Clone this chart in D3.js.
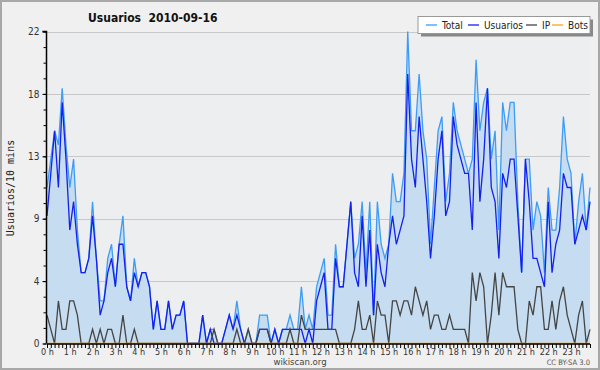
<!DOCTYPE html>
<html>
<head>
<meta charset="utf-8">
<style>
  body { margin: 0; background: #f0f0f0; }
  svg text { font-family: "DejaVu Sans Condensed", "DejaVu Sans", sans-serif; }
</style>
</head>
<body>
<svg id="chart" width="600" height="370"></svg>
<script src="https://d3js.org/d3.v7.min.js"></script>
<script>
// valores cada 10 minutos, 0h00 .. 23h50
var total = [11,13,15,14,18,14,11,13,8,5,5,6,10,6,3,3,6,7,4,7,9,4,3,6,4,5,5,4,1,3,1,1,3,1,2,2,3,0,0,0,
  0,2,0,1,1,0,0,1,2,1,3,1,0,1,0,0,2,2,2,0,1,0,1,1,2,1,1,4,1,2,1,4,5,6,2,2,7,4,4,7,
  10,6,7,10,5,10,2,10,7,6,7,12,10,10,12,22,15,15,19,15,13,7,11,15,16,10,12,17,15,14,13,12,13,20,15,17,18,13,15,8,
  17,15,17,17,10,5,13,13,8,10,9,5,11,8,8,11,16,13,12,7,10,12,8,11];
var usuarios = [9,12,15,11,17,13,8,10,7,5,5,6,9,6,2,3,5,6,4,7,7,4,3,5,4,5,5,4,1,3,1,1,3,1,2,2,3,0,0,0,
  0,2,0,1,0,0,0,1,2,1,2,1,0,0,0,0,1,1,1,0,1,0,1,1,1,1,1,1,0,1,0,3,4,5,1,1,6,4,4,7,
  10,5,4,9,4,8,2,7,5,4,7,9,7,8,9,19,13,11,16,13,10,6,9,13,15,9,10,16,14,13,12,12,8,17,10,13,18,11,10,6,
  12,11,13,13,9,5,13,10,6,6,5,4,10,5,7,8,12,11,11,7,8,9,8,10];
var ip = [2,1,0,3,1,1,3,3,2,0,0,0,1,0,1,0,1,1,0,0,2,0,0,1,0,0,0,0,0,0,0,0,0,0,0,0,0,0,0,0,
  0,0,0,0,1,0,0,0,0,0,1,0,0,1,0,0,1,1,1,0,0,0,0,0,1,0,0,2,1,1,1,1,1,1,1,1,1,0,0,0,
  0,1,3,1,1,2,0,3,2,2,0,3,3,2,3,3,2,4,3,2,3,1,2,2,1,1,2,1,1,1,1,0,5,3,5,4,0,2,5,2,
  5,4,4,4,1,0,0,3,2,4,4,1,1,3,1,3,4,2,1,0,2,3,0,1];
var bots = total.map(function() { return 0; });

var yTicks = [0, 4.4, 8.8, 13.2, 17.6, 22];
var hourLabels = d3.range(24).map(function(h) { return h + " h"; });

var series = [
  {name: "Total", values: total, color: "#3d9cf5"},
  {name: "Usuarios", values: usuarios, color: "#1420f0"},
  {name: "IP", values: ip, color: "#454545"},
  {name: "Bots", values: bots, color: "#ffa020"}
];

var svg = d3.select("#chart"),
    x0 = 47, x1 = 590, y0 = 343.5, y1 = 31.5;

var x = d3.scaleLinear().domain([0, total.length - 1]).range([x0, x1]);
var y = d3.scaleLinear().domain([0, 22]).range([y0, y1]);

// fondo y marco
svg.append("rect").attr("x", 1).attr("y", 1).attr("width", 598).attr("height", 368)
    .attr("fill", "#f0f0f0").attr("stroke", "#a8a8a8").attr("stroke-width", 2);
svg.append("rect").attr("x", x0).attr("y", y1).attr("width", x1 - x0).attr("height", y0 - y1)
    .attr("fill", "#edeef0");

// rejilla
svg.append("g").selectAll("line")
    .data(yTicks.slice(1))
  .enter().append("line")
    .attr("x1", x0).attr("x2", x1)
    .attr("y1", function(d) { return Math.round(y(d)) + 0.5; })
    .attr("y2", function(d) { return Math.round(y(d)) + 0.5; })
    .attr("stroke", "#c8c8c8");

var area = d3.area()
    .x(function(d, i) { return x(i); })
    .y0(y(0))
    .y1(function(d) { return y(d); });

svg.append("path")
    .datum(total)
    .attr("fill", "#c6dcf0")
    .attr("d", area);

var line = d3.line()
    .x(function(d, i) { return x(i); })
    .y(function(d) { return y(d); });

svg.selectAll(".serie")
    .data(series)
  .enter().append("path")
    .attr("class", "serie")
    .attr("fill", "none")
    .attr("stroke", function(d) { return d.color; })
    .attr("stroke-width", 1.3)
    .attr("d", function(d) { return line(d.values); });

// ejes
var yAxis = svg.append("g")
    .attr("transform", "translate(" + (x0 - 0.5) + ",0)")
    .call(d3.axisLeft(y).tickValues(yTicks).tickSize(4).tickFormat(d3.format(".0f")));
svg.append("g")
    .attr("transform", "translate(" + (x0 - 0.5) + ",0)")
    .call(d3.axisLeft(y).tickValues(d3.range(0, 22.01, 1.1)).tickSize(3).tickFormat(""))
    .select(".domain").remove();

var xAxis = svg.append("g")
    .attr("transform", "translate(0," + (y0 + 0.5) + ")")
    .call(d3.axisBottom(x).tickValues(d3.range(total.length)).tickSize(4)
        .tickFormat(function(d) { return d % 6 === 0 ? hourLabels[d / 6] : ""; }));

[yAxis, xAxis].forEach(function(a) {
  a.select(".domain").attr("stroke", "#000").attr("stroke-width", 1.5);
  a.selectAll(".tick line").attr("stroke", "#000");
  a.selectAll("text").attr("fill", "#333").style("font-size", "10px")
      .style("font-family", "DejaVu Sans Condensed");
});
xAxis.select(".domain").attr("d", "M" + x0 + ",0H" + x1);
yAxis.select(".domain").attr("d", "M0," + y0 + "V" + y1 + "H-4");
xAxis.selectAll("text").attr("dy", "0.45em").style("font-size", "9px");

// titulo y textos
svg.append("text")
    .attr("x", 88).attr("y", 22)
    .attr("font-weight", "bold").attr("font-size", "12px").attr("fill", "#111")
    .attr("xml:space", "preserve")
    .text("Usuarios  2010-09-16");

svg.append("text")
    .attr("transform", "translate(14,188) rotate(-90)")
    .attr("text-anchor", "middle")
    .style("font-family", "DejaVu Sans Mono").attr("font-size", "10px").attr("fill", "#222")
    .text("Usuarios/10 mins");

svg.append("text")
    .attr("x", 300).attr("y", 365).attr("text-anchor", "middle")
    .attr("font-size", "9.5px").attr("fill", "#444")
    .text("wikiscan.org");

svg.append("text")
    .attr("x", 590).attr("y", 365).attr("text-anchor", "end")
    .attr("font-size", "7.5px").attr("fill", "#555")
    .text("CC BY-SA 3.0");

// leyenda
var lg = svg.append("g").attr("transform", "translate(418,16.5)");
lg.append("rect").attr("x", 3).attr("y", 3).attr("width", 172).attr("height", 17).attr("fill", "#888");
lg.append("rect").attr("width", 172).attr("height", 17).attr("fill", "#fff").attr("stroke", "#999");
var lx = [8, 50, 108, 134];
var item = lg.selectAll(".item")
    .data(series)
  .enter().append("g")
    .attr("transform", function(d, i) { return "translate(" + lx[i] + ",0)"; });
item.append("line").attr("x1", 0).attr("x2", 11).attr("y1", 8.5).attr("y2", 8.5)
    .attr("stroke", function(d) { return d.color; }).attr("stroke-width", 1.3);
item.append("text").attr("x", 16).attr("y", 12.5)
    .attr("font-size", "10px").attr("fill", "#222")
    .text(function(d) { return d.name; });
</script>
</body>
</html>
